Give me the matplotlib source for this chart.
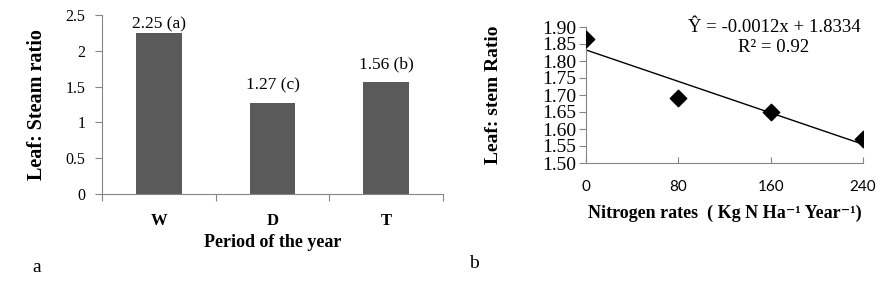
import matplotlib
matplotlib.use("Agg")
import matplotlib.pyplot as plt
import numpy as np

# ---- data ----
periods = ["W", "D", "T"]
ratio_period = [2.25, 1.27, 1.56]
letters = ["a", "c", "b"]

n_rates = [0, 80, 160, 240]
ratio_n = [1.865, 1.69, 1.65, 1.57]
eq_text = "Ŷ = -0.0012x + 1.8334"
r2_text = "R² = 0.92"

plt.rcParams["font.family"] = ["Liberation Serif", "DejaVu Serif"]

W, H = 883, 285
fig = plt.figure(figsize=(W / 100, H / 100), dpi=100)

def box(l, t, r, b):
    return [l / W, 1 - b / H, (r - l) / W, (b - t) / H]

spine_c = "#868686"
bar_c = "#5a5a5a"

# ---- panel a ----
ax1 = fig.add_axes(box(102, 15, 443, 194))
x = np.arange(len(periods))
ax1.bar(x, ratio_period, width=0.4, color=bar_c, zorder=2)
ax1.set_xlim(-0.5, len(periods) - 0.5)
ymax = 2.5
ax1.set_ylim(0, ymax)
ax1.set_yticks(np.arange(0, 2.51, 0.5))
ax1.set_yticklabels(["0", "0.5", "1", "1.5", "2", "2.5"])
ax1.set_xticks(np.arange(-0.5, len(periods), 1.0), minor=False)
ax1.set_xticklabels([])
ax1.set_xticks(x, minor=True)
ax1.set_xticklabels(periods, minor=True, fontweight="bold", fontsize=12)
ax1.tick_params(axis="x", which="minor", length=0, pad=14)
ax1.tick_params(axis="x", which="major", length=5, color=spine_c, direction="out")
ax1.tick_params(axis="y", length=5, color=spine_c, direction="out", labelsize=11.5, pad=7)
for s in ["top", "right"]:
    ax1.spines[s].set_visible(False)
for s in ["left", "bottom"]:
    ax1.spines[s].set_color(spine_c)
ax1.set_ylabel("Leaf: Steam ratio", fontweight="bold", fontsize=14.5)
ax1.yaxis.set_label_coords((47 - 102) / 341, 0.5)
ax1.set_xlabel("Period of the year", fontweight="bold", fontsize=13, labelpad=3)
for xi, v, l in zip(x, ratio_period, letters):
    ax1.text(xi, min(v + 0.14, ymax - 0.24), f"{v:.2f} ({l})", ha="center",
             va="bottom", fontsize=12.5, clip_on=False)

# ---- panel b ----
ax2 = fig.add_axes(box(586, 27, 863, 163))
ax2.scatter(n_rates, ratio_n, marker="D", s=70, color="black", zorder=3)
slope, intercept = np.polyfit(n_rates, ratio_n, 1)
xs = np.array([min(n_rates), max(n_rates)])
ax2.plot(xs, slope * xs + intercept, color="black", lw=1, zorder=2)
ax2.set_xlim(0, 240)
ax2.set_ylim(1.50, 1.90)
ax2.set_yticks(np.arange(1.50, 1.901, 0.05))
ax2.set_yticklabels([f"{v:.2f}" for v in np.arange(1.50, 1.901, 0.05)])
ax2.set_xticks(n_rates)
ax2.set_xticklabels([str(v) for v in n_rates], family=["Lato", "DejaVu Sans"], fontsize=11)
ax2.tick_params(axis="x", length=4, color=spine_c, direction="in", pad=12)
ax2.tick_params(axis="y", length=5, color=spine_c, direction="out", labelsize=14, pad=2)
for s in ["top", "right"]:
    ax2.spines[s].set_visible(False)
for s in ["left", "bottom"]:
    ax2.spines[s].set_color(spine_c)
ax2.set_ylabel("Leaf: stem Ratio", fontweight="bold", fontsize=14)
ax2.yaxis.set_label_coords((502 - 586) / 277, 0.5)
ax2.set_xlabel("Nitrogen rates  ( Kg N Ha⁻¹ Year⁻¹)",
               fontweight="bold", fontsize=13, labelpad=8)
fig.text(774 / W, 1 - 27 / H, eq_text, ha="center", va="center", fontsize=13.5)
fig.text(774 / W, 1 - 47 / H, r2_text, ha="center", va="center", fontsize=13.5)

fig.text(37 / W, 1 - 268 / H, "a", ha="center", va="center", fontsize=14)
fig.text(474 / W, 1 - 264 / H, "b", ha="center", va="center", fontsize=14)

fig.savefig("out.png", dpi=100)
